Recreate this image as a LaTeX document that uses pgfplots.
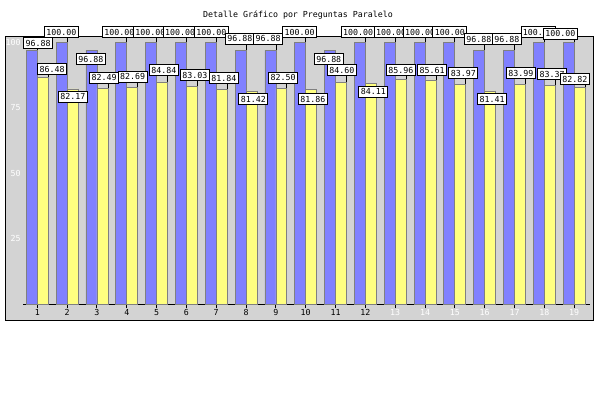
\documentclass[border=0pt]{standalone}
\usepackage{pgfplots}
\pgfplotsset{compat=1.18}
\usepackage{pgfplotstable}
\usepackage{fontspec}
\newfontfamily\monof{DejaVu Sans Mono}
\definecolor{bggray}{HTML}{D3D3D3}
\definecolor{barblue}{HTML}{8080FF}
\definecolor{baryellow}{HTML}{FFFF80}
\definecolor{edgegray}{HTML}{808080}
\tikzset{lbl/.style={anchor=center, draw=black, fill=white, line width=0.8pt,
     text height=6pt, text depth=0pt, inner xsep=2pt, inner ysep=2.5pt, text=black}}

\pgfplotstableread{
x y dx dy ep em
1 96.88 6.3 7.2 0.65 0
2 100.00 -0.3 10.1 1.76 0
3 96.88 -0.6 -8.7 0 1.22
4 100.00 -2.0 10.1 1.76 0
5 100.00 -0.8 10.1 1.76 0
6 100.00 -0.7 10.1 1.76 0
7 100.00 0.7 10.1 1.76 0
8 96.88 -0.8 11.7 2.37 0
9 96.88 -2.3 11.7 2.37 0
10 100.00 -0.7 10.1 1.76 0
11 96.88 -1.3 -8.7 0 1.22
12 100.00 -1.8 10.1 1.76 0
13 100.00 1.5 10.1 1.76 0
14 100.00 0.7 10.1 1.76 0
15 100.00 0.4 10.1 1.76 0
16 96.88 -0.3 11.3 2.2 0
17 96.88 -2.1 11.3 2.2 0
18 100.00 -0.9 10.1 1.76 0
19 100.00 -8.2 8.5 1.15 0
}\bluedata

\pgfplotstableread{
x y dx dy ep em
1 86.48 9.4 8.5 1.15 0
2 82.17 0.3 -7.7 0 0.84
3 82.49 1.7 10.6 1.95 0
4 82.69 0.4 10.9 2.06 0
5 84.84 1.8 11.8 2.41 0
6 83.03 2.9 11.5 2.29 0
7 81.84 2.1 11.5 2.29 0
8 81.42 1.8 -8.3 0 1.07
9 82.50 1.7 10.6 1.95 0
10 81.86 1.7 -9.4 0 1.49
11 84.60 0.8 12.6 2.71 0
12 84.11 2.5 -7.8 0 0.88
13 85.96 0.1 9.0 1.34 0
14 85.61 1.7 9.8 1.64 0
15 83.97 3.0 11.0 2.1 0
16 81.41 1.9 -8.3 0 1.07
17 83.99 0.9 10.9 2.06 0
18 83.37 2.2 11.6 2.33 0
19 82.82 -4.9 8.1 0.99 0
}\yellowdata

\begin{document}
\begin{tikzpicture}[font=\monof\fontsize{8.3}{10}\selectfont]
\useasboundingbox (0pt,0pt) rectangle (600pt,400pt);
\fill[white] (0pt,0pt) rectangle (600pt,400pt);
\draw[fill=bggray, line width=1pt] (5pt,80pt) rectangle (593pt,363pt);
\node at (298pt,385pt) {Detalle Gráfico por Preguntas Paralelo};
\begin{axis}[
  at={(23.3pt,96pt)}, anchor=south west, scale only axis,
  width=566.7pt, height=261.7pt,
  xmin=0.531, xmax=19.531, ymin=0, ymax=100,
  clip=false,
  axis x line*=bottom, axis y line*=left,
  y axis line style={draw=none},
  x axis line style={black, line width=0.9pt, -},
  xtick={1,...,19},
  xticklabels={1,2,3,4,5,6,7,8,9,10,11,12,\textcolor{white}{13},\textcolor{white}{14},\textcolor{white}{15},\textcolor{white}{16},\textcolor{white}{17},\textcolor{white}{18},\textcolor{white}{19}},
  xtick align=center, major tick length=4pt,
  xtick style={black, line width=0.9pt},
  ytick={25,50,75,100}, yticklabels={25,50,75,100},
  ytick style={draw=none},
  /pgf/number format/assume math mode=true,
  yticklabel style={white, inner sep=0pt, anchor=east, xshift=-2.5pt},
  xticklabel style={inner sep=0pt, anchor=north, yshift=-1.5pt},
  ybar=0pt, bar width=0.3687,
]
\addplot[sharp plot, draw=none, mark=none, forget plot,
  error bars/.cd, y dir=both, y explicit, error mark=none,
  error bar style={black, line width=0.8pt}]
  table[x expr=\thisrow{x}-0.18435, y=y, y error plus=ep, y error minus=em]{\bluedata};
\addplot[fill=barblue, draw=edgegray, line width=0.8pt, bar shift=-0.18435,
  point meta=y,
  visualization depends on={\thisrow{dx}\as\dx},
  visualization depends on={\thisrow{dy}\as\dy},
  nodes near coords={\pgfmathprintnumber[fixed,fixed zerofill,precision=2]{\pgfplotspointmeta}},
  every node near coord/.append style={lbl, xshift=\dx, yshift=\dy}]
  table[x=x, y=y]{\bluedata};
\addplot[sharp plot, draw=none, mark=none, forget plot,
  error bars/.cd, y dir=both, y explicit, error mark=none,
  error bar style={black, line width=0.8pt}]
  table[x expr=\thisrow{x}+0.18435, y=y, y error plus=ep, y error minus=em]{\yellowdata};
\addplot[fill=baryellow, draw=edgegray, line width=0.8pt, bar shift=0.18435,
  point meta=y,
  visualization depends on={\thisrow{dx}\as\dx},
  visualization depends on={\thisrow{dy}\as\dy},
  nodes near coords={\pgfmathprintnumber[fixed,fixed zerofill,precision=2]{\pgfplotspointmeta}},
  every node near coord/.append style={lbl, xshift=\dx, yshift=\dy}]
  table[x=x, y=y]{\yellowdata};
\end{axis}
\end{tikzpicture}
\end{document}
